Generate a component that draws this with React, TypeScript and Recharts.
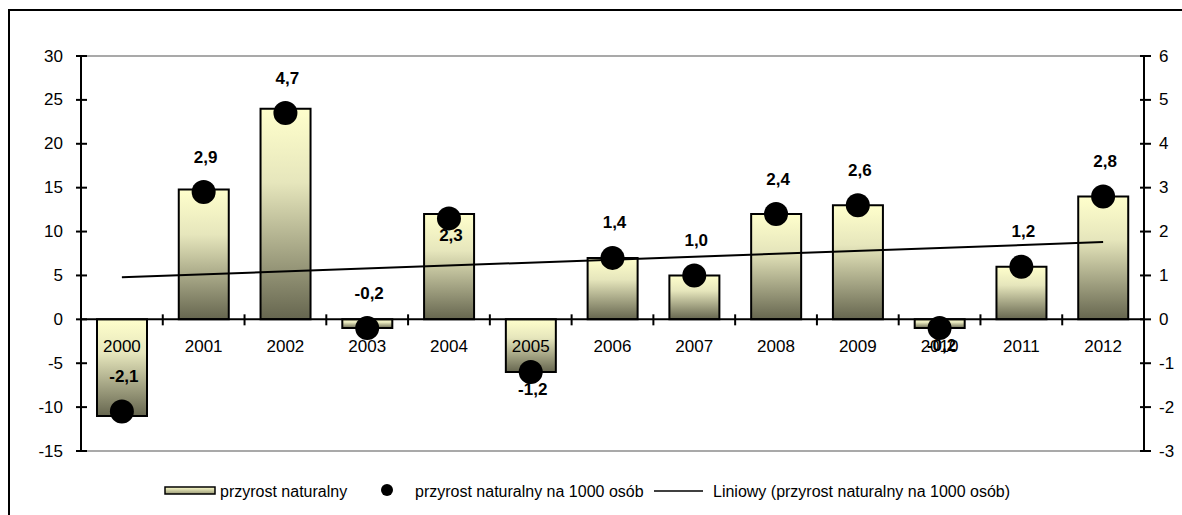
import React from 'react';
import { ComposedChart, Bar, Line, XAxis, YAxis, ReferenceLine, LabelList } from 'recharts';

const years = ['2000', '2001', '2002', '2003', '2004', '2005', '2006', '2007', '2008', '2009', '2010', '2011', '2012'];
const naturalIncrease = [-11, 14.8, 24, -1, 12, -6, 7, 5, 12, 13, -1, 6, 14];
const per1000 = [-2.1, 2.9, 4.7, -0.2, 2.3, -1.2, 1.4, 1.0, 2.4, 2.6, -0.2, 1.2, 2.8];
const trendPer1000: (number | null)[] = [0.96, null, null, null, null, null, null, null, null, null, null, null, 1.76];
const axisBase = [0, 0, 0, 0, 0, 0, 0, 0, 0, 0, 0, 0, 0];

const leftTicks = [-15, -10, -5, 0, 5, 10, 15, 20, 25, 30];
const rightTicks = [-3, -2, -1, 0, 1, 2, 3, 4, 5, 6];

const legendLabels = ['przyrost naturalny', 'przyrost naturalny na 1000 osób', 'Liniowy (przyrost naturalny na 1000 osób)'];

// label placement (indices whose value label sits below the point)
const labelsBelow = [4, 5, 10];

const data = years.map((y, i) => ({
  year: y,
  natural: naturalIncrease[i],
  rate: per1000[i],
  trend: trendPer1000[i],
  base: axisBase[i],
}));

const FONT = '"Liberation Sans", Arial, sans-serif';
const CHART_W = 1230;
const CHART_H = 515;
const MARGIN = { top: 56, right: 26, bottom: 64, left: 0 };
const LEFT_AXIS_W = 81;
const RIGHT_AXIS_W = 60;
const PLOT_W = CHART_W - MARGIN.left - MARGIN.right - LEFT_AXIS_W - RIGHT_AXIS_W;
const BAND = PLOT_W / years.length;

const LeftTick = (props: any) => {
  const { x, y, payload } = props;
  return (
    <g>
      <line x1={x - 5} x2={x + 6} y1={y} y2={y} stroke="#000" strokeWidth={2} />
      <text x={x - 18} y={y} textAnchor="end" dominantBaseline="central" fontSize={17} fontFamily={FONT} fill="#000">
        {payload.value}
      </text>
    </g>
  );
};

const RightTick = (props: any) => {
  const { x, y, payload } = props;
  return (
    <g>
      <line x1={x - 4} x2={x + 7} y1={y} y2={y} stroke="#000" strokeWidth={2} />
      <text x={x + 15} y={y} textAnchor="start" dominantBaseline="central" fontSize={17} fontFamily={FONT} fill="#000">
        {payload.value}
      </text>
    </g>
  );
};

const CategoryMark = (props: any) => {
  const { cx, cy, index, payload } = props;
  if (cx == null || cy == null) return <g key={`cm-${index}`} />;
  return (
    <g key={`cm-${index}`}>
      {index < years.length - 1 && (
        <line x1={cx + BAND / 2} x2={cx + BAND / 2} y1={cy - 5} y2={cy + 6} stroke="#000" strokeWidth={2} />
      )}
      <text x={cx} y={cy + 27} textAnchor="middle" dominantBaseline="central" fontSize={17} fontFamily={FONT} fill="#000">
        {payload.year}
      </text>
    </g>
  );
};

const ValueLabel = (props: any) => {
  const { x, y, value, index } = props;
  if (value == null) return null;
  const below = labelsBelow.includes(index);
  const ty = below ? y + 17 : y - 35;
  return (
    <text x={x + 2} y={ty} textAnchor="middle" dominantBaseline="central" fontSize={17} fontWeight="bold" fontFamily={FONT} fill="#000">
      {Number(value).toFixed(1).replace('.', ',')}
    </text>
  );
};

export default function App() {
  return (
    <div style={{ position: 'absolute', left: 0, top: 0, width: 1182, height: 515, overflow: 'hidden', background: '#fff', fontFamily: FONT }}>
      <div style={{ position: 'absolute', left: 8, top: 9, width: 1300, height: 600, border: '2px solid #000', boxSizing: 'border-box' }} />
      <div style={{ position: 'absolute', left: 0, top: 0 }}>
        <ComposedChart width={CHART_W} height={CHART_H} data={data} margin={MARGIN}>
          <defs>
            <linearGradient id="barGrad" x1="0" y1="0" x2="0" y2="1">
              <stop offset="0%" stopColor="#FFFFCC" />
              <stop offset="35%" stopColor="#E6E6BC" />
              <stop offset="100%" stopColor="#66664F" />
            </linearGradient>
          </defs>
          <XAxis dataKey="year" hide />
          <YAxis
            yAxisId="left"
            domain={[-15, 30]}
            ticks={leftTicks}
            interval={0}
            width={LEFT_AXIS_W}
            tickSize={0}
            tickMargin={0}
            axisLine={{ stroke: '#000', strokeWidth: 2 }}
            tickLine={false}
            tick={<LeftTick />}
          />
          <YAxis
            yAxisId="right"
            orientation="right"
            domain={[-3, 6]}
            ticks={rightTicks}
            interval={0}
            width={RIGHT_AXIS_W}
            tickSize={0}
            tickMargin={0}
            axisLine={{ stroke: '#000', strokeWidth: 2 }}
            tickLine={false}
            tick={<RightTick />}
          />
          <ReferenceLine yAxisId="left" y={30} stroke="#8c8c8c" strokeWidth={1.5} />
          <ReferenceLine yAxisId="left" y={-15} stroke="#8c8c8c" strokeWidth={1.5} />
          <Bar
            yAxisId="left"
            dataKey="natural"
            barSize={50}
            fill="url(#barGrad)"
            stroke="#000"
            strokeWidth={2}
            isAnimationActive={false}
          />
          <ReferenceLine yAxisId="left" y={0} stroke="#000" strokeWidth={2} />
          <Line
            yAxisId="left"
            dataKey="base"
            stroke="none"
            dot={<CategoryMark />}
            activeDot={false}
            isAnimationActive={false}
          />
          <Line
            yAxisId="right"
            dataKey="trend"
            stroke="#000"
            strokeWidth={2}
            dot={false}
            activeDot={false}
            connectNulls
            isAnimationActive={false}
          />
          <Line
            yAxisId="right"
            dataKey="rate"
            stroke="none"
            dot={{ r: 12, fill: '#000', stroke: 'none' }}
            activeDot={false}
            isAnimationActive={false}
          >
            <LabelList dataKey="rate" content={<ValueLabel />} />
          </Line>
        </ComposedChart>
      </div>
      <svg style={{ position: 'absolute', left: 0, top: 478 }} width={1182} height={30}>
        <defs>
          <linearGradient id="legGrad" x1="0" y1="0" x2="0" y2="1">
            <stop offset="0%" stopColor="#FFFFCC" />
            <stop offset="100%" stopColor="#9a9a78" />
          </linearGradient>
        </defs>
        <rect x={165} y={9} width={50} height={7} fill="url(#legGrad)" stroke="#000" strokeWidth={1.5} />
        <text x={220} y={13} dominantBaseline="central" fontSize={16} fontFamily={FONT} fill="#000">{legendLabels[0]}</text>
        <circle cx={387} cy={12} r={6} fill="#000" />
        <text x={415} y={13} dominantBaseline="central" fontSize={16} fontFamily={FONT} fill="#000">{legendLabels[1]}</text>
        <line x1={654} x2={703} y1={13} y2={13} stroke="#000" strokeWidth={1.5} />
        <text x={713} y={13} dominantBaseline="central" fontSize={16} fontFamily={FONT} fill="#000">{legendLabels[2]}</text>
      </svg>
    </div>
  );
}
